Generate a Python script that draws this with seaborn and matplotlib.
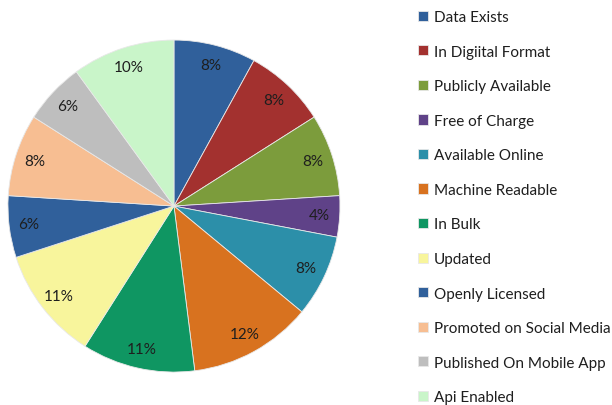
import matplotlib
matplotlib.use("Agg")
import matplotlib.pyplot as plt
import seaborn as sns
import numpy as np

categories = ["Data Exists", "In Digiital Format", "Publicly Available", "Free of Charge",
              "Available Online", "Machine Readable", "In Bulk", "Updated",
              "Openly Licensed", "Promoted on Social Media", "Published On Mobile App", "Api Enabled"]
values = [8, 8, 8, 4, 8, 12, 11, 11, 6, 8, 6, 10]
labels = ["8%", "8%", "8%", "4%", "8%", "12%", "11%", "11%", "6%", "8%", "6%", "10%"]
colors = ["#30609B", "#A3312F", "#7C9C3C", "#5F4288", "#2C8FA9", "#D8721F",
          "#0F9662", "#F8F59C", "#30609B", "#F7BE92", "#BEBEBE", "#C9F5C9"]

sns.set_theme(style="white")
plt.rcParams["font.family"] = ["Lato", "DejaVu Sans"]

palette = sns.color_palette(colors)
fig = plt.figure(figsize=(6.12, 4.06), dpi=100)
fig.patch.set_facecolor("white")
ax = fig.add_axes([0.013, 0.081, 0.5425, 0.818])

wedges, _ = ax.pie(values, colors=palette, startangle=90, counterclock=False,
                   wedgeprops=dict(edgecolor="#e8e8e8", linewidth=0.6))
ang = 90.0
for w, lab, v in zip(wedges, labels, values):
    mid = np.deg2rad(ang - v * 3.6 / 2)
    ang -= v * 3.6
    ax.text(0.88 * np.cos(mid), 0.88 * np.sin(mid), lab, ha="center", va="center",
            fontsize=11, color="#1e1e1e")
ax.set_xlim(-1.0, 1.0)
ax.set_ylim(-1.0, 1.0)
ax.set_aspect("equal")

leg = fig.legend(wedges, categories, loc="upper left", bbox_to_anchor=(0.668, 0.995),
                 frameon=False, fontsize=11, handlelength=0.65, handleheight=0.65,
                 handletextpad=0.4, labelspacing=1.345, borderaxespad=0.2)
for t in leg.get_texts():
    t.set_color("#1e1e1e")

fig.savefig("out.png", dpi=100, facecolor="white")
